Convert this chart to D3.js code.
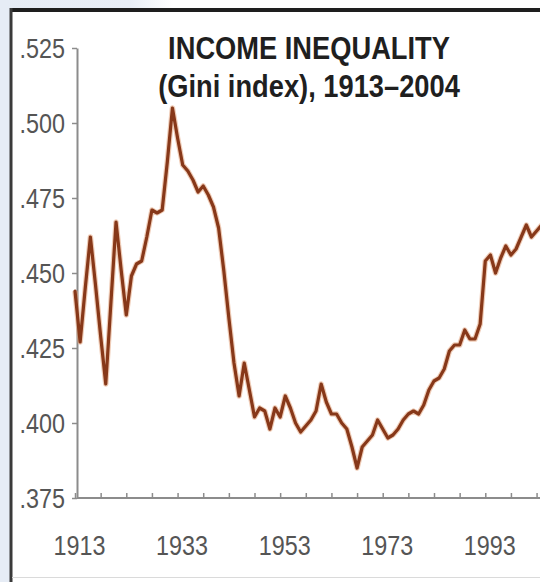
<!DOCTYPE html>
<html>
<head>
<meta charset="utf-8">
<script src="https://cdn.jsdelivr.net/npm/d3@7"></script>
<style>
  html, body { margin: 0; padding: 0; background: #ffffff; }
  svg { display: block; }
  .tick text { font-family: "Liberation Sans", Arial, sans-serif; }
</style>
</head>
<body>
<svg id="chart" width="540" height="582"></svg>
<script>
// Gini index of US income inequality, one value per year
const firstYear = 1913;
const gini = [
  0.444, 0.427, 0.445, 0.462, 0.446, 0.429, 0.413, 0.440, 0.467, 0.451,
  0.436, 0.449, 0.453, 0.454, 0.462, 0.471, 0.470, 0.471, 0.487, 0.505,
  0.495, 0.486, 0.484, 0.481, 0.477, 0.479, 0.476, 0.472, 0.465, 0.451,
  0.435, 0.420, 0.409, 0.420, 0.411, 0.402, 0.405, 0.404, 0.398, 0.405,
  0.402, 0.409, 0.405, 0.400, 0.397, 0.399, 0.401, 0.404, 0.413, 0.407,
  0.403, 0.403, 0.400, 0.398, 0.392, 0.385, 0.392, 0.394, 0.396, 0.401,
  0.398, 0.395, 0.396, 0.398, 0.401, 0.403, 0.404, 0.403, 0.406, 0.411,
  0.414, 0.415, 0.418, 0.424, 0.426, 0.426, 0.431, 0.428, 0.428, 0.433,
  0.454, 0.456, 0.450, 0.455, 0.459, 0.456, 0.458, 0.462, 0.466, 0.462,
  0.464, 0.466
];
const years = d3.range(firstYear, firstYear + gini.length);

const yTicks = [0.375, 0.400, 0.425, 0.450, 0.475, 0.500, 0.525];
const xTicks = d3.range(1913, 2004, 5);
const xLabels = [1913, 1933, 1953, 1973, 1993];
const titleLines = ["INCOME INEQUALITY", "(Gini index), 1913\u20132004"];

const series = years.map((yr, i) => ({ year: yr, value: gini[i] }));

const svg = d3.select("#chart");
const W = 540, H = 582;
const narrow = 0.82;   // horizontal squeeze for a condensed look

// page backdrop and frame
const defs = svg.append("defs");
const grad = defs.append("linearGradient").attr("id", "topband")
  .attr("x1", "0").attr("x2", "1").attr("y1", "0").attr("y2", "0");
grad.append("stop").attr("offset", "0%").attr("stop-color", "#e6ecf5");
grad.append("stop").attr("offset", "24%").attr("stop-color", "#e9eef6");
grad.append("stop").attr("offset", "32%").attr("stop-color", "#ffffff");

svg.append("rect").attr("x", 0).attr("y", 0).attr("width", W).attr("height", 8)
  .attr("fill", "url(#topband)");
svg.append("rect").attr("x", 0).attr("y", 0).attr("width", 10).attr("height", H)
  .attr("fill", "#e6ecf5");
svg.append("line").attr("x1", 10).attr("x2", W).attr("y1", 10).attr("y2", 10)
  .attr("stroke", "#1e1e1e").attr("stroke-width", 4);
svg.append("line").attr("x1", 11).attr("x2", 11).attr("y1", 8).attr("y2", H)
  .attr("stroke", "#3a3a3a").attr("stroke-width", 3);
svg.append("line").attr("x1", 12).attr("x2", W).attr("y1", 577.5).attr("y2", 577.5)
  .attr("stroke", "#dadada").attr("stroke-width", 1);

// scales
const x = d3.scaleLinear().domain([1913, 2004]).range([75, 541.7]);
const y = d3.scaleLinear().domain([0.375, 0.525]).range([498, 48]);
const axisX = 77;

// y axis
const yAxis = d3.axisLeft(y)
  .tickValues(yTicks)
  .tickSizeInner(5)
  .tickSizeOuter(0)
  .tickPadding(7)
  .tickFormat(d => d3.format(".3f")(d).replace(/^0/, ""));
const gy = svg.append("g").attr("transform", `translate(${axisX},0)`).call(yAxis);
gy.select(".domain").attr("stroke", "#8c8c8c").attr("stroke-width", 2);
gy.selectAll(".tick line").attr("stroke", "#8c8c8c").attr("stroke-width", 1.5);
gy.selectAll(".tick text")
  .attr("fill", "#555").attr("font-size", 28.5)
  .attr("x", -12 / narrow)
  .attr("transform", `scale(${narrow},1)`);

// x axis: ticks point up into the plot, labels every 20 years
const xAxis = d3.axisBottom(x)
  .tickValues(xTicks)
  .tickSizeInner(-5)
  .tickSizeOuter(0)
  .tickPadding(37)
  .tickFormat(d => xLabels.includes(d) ? String(d) : "");
const gx = svg.append("g").attr("transform", `translate(0,${y(0.375)})`).call(xAxis);
gx.select(".domain").remove();
gx.append("line").attr("x1", axisX).attr("x2", W).attr("y1", 0).attr("y2", 0)
  .attr("stroke", "#8c8c8c").attr("stroke-width", 2);
gx.selectAll(".tick line").attr("stroke", "#8c8c8c").attr("stroke-width", 1.5);
gx.selectAll(".tick text")
  .attr("fill", "#555").attr("font-size", 28.5)
  .attr("x", 4 / narrow)
  .attr("transform", `scale(${narrow},1)`);

// title
const title = svg.append("g")
  .attr("transform", `translate(309,0) scale(0.88,1)`)
  .attr("font-family", "'Liberation Sans', Arial, sans-serif")
  .attr("font-weight", "bold")
  .attr("fill", "#1f1f1f")
  .attr("text-anchor", "middle");
title.append("text").attr("x", 0).attr("y", 59).attr("font-size", 31).text(titleLines[0]);
title.append("text").attr("x", 0).attr("y", 97).attr("font-size", 31).text(titleLines[1]);

// the Gini line
const line = d3.line().x(d => x(d.year)).y(d => y(d.value)).curve(d3.curveLinear);
svg.append("path").datum(series)
  .attr("d", line)
  .attr("fill", "none")
  .attr("stroke", "#e2a27c")
  .attr("stroke-opacity", 0.55)
  .attr("stroke-width", 5.5)
  .attr("stroke-linejoin", "round");
svg.append("path").datum(series)
  .attr("d", line)
  .attr("fill", "none")
  .attr("stroke", "#873819")
  .attr("stroke-width", 3.2)
  .attr("stroke-linejoin", "round")
  .attr("stroke-linecap", "round");
</script>
</body>
</html>
